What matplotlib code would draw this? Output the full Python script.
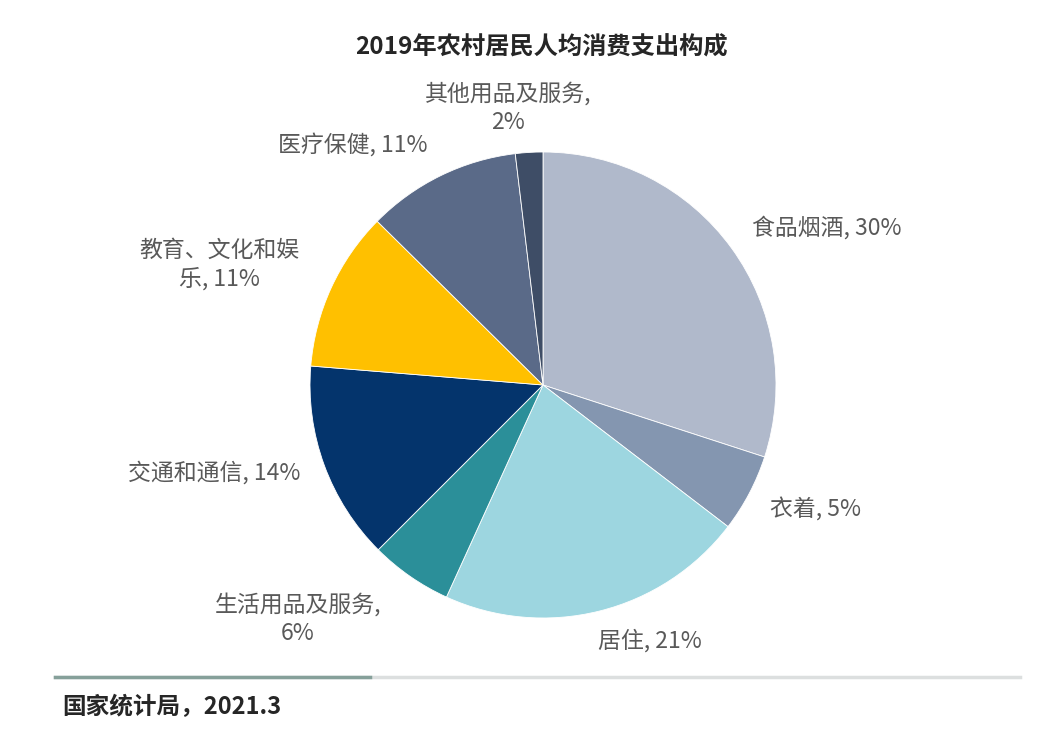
import matplotlib.pyplot as plt
from matplotlib.lines import Line2D

plt.rcParams['font.family'] = ['Noto Sans CJK SC', 'DejaVu Sans']

title = '2019年农村居民人均消费支出构成'
source = '国家统计局，2021.3'

categories = ['食品烟酒', '衣着', '居住', '生活用品及服务', '交通和通信',
              '教育、文化和娱乐', '医疗保健', '其他用品及服务']
shares = [30.0, 5.4, 21.4, 5.7, 13.8, 11.1, 10.7, 1.9]
label_texts = ['食品烟酒, 30%', '衣着, 5%', '居住, 21%', '生活用品及服务,\n6%',
               '交通和通信, 14%', '教育、文化和娱\n乐, 11%', '医疗保健, 11%',
               '其他用品及服务,\n2%']

colors = ['#b0b9cb', '#8496b0', '#9dd6e0', '#2b8f99', '#04346c',
          '#ffc000', '#5a6a88', '#3e4d66']

# label placement in pie units (radius = 1), plus alignment
label_pos = [(0.897, 0.674), (0.974, -0.536), (0.459, -1.099), (-1.052, -1.004),
             (-1.043, -0.378), (-1.39, 0.515), (-0.494, 1.030), (-0.150, 1.189)]
label_ha = ['left', 'left', 'center', 'center', 'right', 'center', 'right', 'center']

W, H = 1062, 740
fig = plt.figure(figsize=(W / 100, H / 100), dpi=100)
fig.patch.set_facecolor('white')

cx, cy, r = 543, 385, 233
ax = fig.add_axes([(cx - r) / W, 1 - (cy + r) / H, 2 * r / W, 2 * r / H])
ax.pie(shares, colors=colors, startangle=90, counterclock=False,
       wedgeprops=dict(linewidth=0.6, edgecolor='white'))
ax.set_xlim(-1, 1)
ax.set_ylim(-1, 1)
ax.set_aspect('equal')
ax.axis('off')

for txt, (x, y), ha in zip(label_texts, label_pos, label_ha):
    ax.text(x, y, txt, ha=ha, va='center', fontsize=16.5, color='#595959',
            linespacing=1.3, clip_on=False)

fig.text(541 / W, 1 - 48 / H, title, ha='center', va='center', fontsize=17.5,
         fontweight='bold', color='#262626')

fig.add_artist(Line2D([55 / W, 1020 / W], [1 - 677 / H, 1 - 677 / H],
                      color='#dcdfdf', linewidth=2.5))
fig.add_artist(Line2D([55 / W, 370 / W], [1 - 677 / H, 1 - 677 / H],
                      color='#86a09a', linewidth=2.5))

fig.text(62 / W, 1 - 707 / H, source, ha='left', va='center', fontsize=17,
         fontweight='bold', color='#262626')

fig.savefig('out.png', dpi=100)
